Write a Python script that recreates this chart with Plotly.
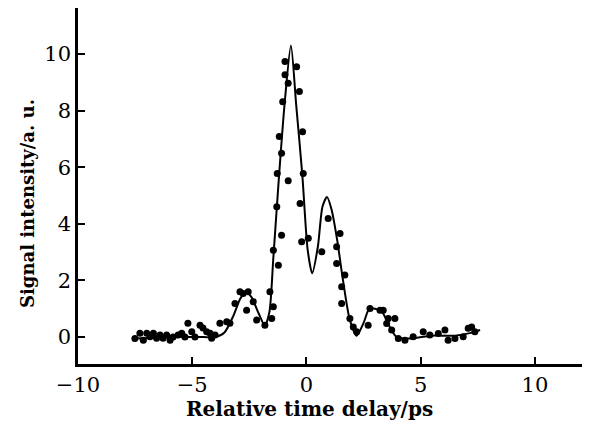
import plotly.graph_objects as go

# Measured data points (relative time delay in ps, signal intensity in a.u.)
data_x = [-7.51, -7.29, -7.14, -6.99, -6.85, -6.70, -6.56, -6.41, -6.28, -6.12,
          -5.97, -5.84, -5.62, -5.46, -5.32, -5.19, -5.02, -4.88, -4.66, -4.53,
          -4.37, -4.22, -4.15, -4.00, -3.79, -3.49, -3.35, -3.13, -2.91, -2.77,
          -2.62, -2.55, -2.33, -2.18, -1.82, -1.60, -1.52, -1.45, -1.45, -1.30,
          -1.28, -1.23, -1.19, -1.09, -1.09, -1.04, -0.94, -0.94, -0.80, -0.80,
          -0.43, -0.31, -0.28, -0.21, -0.17, -0.14, 0.08, 0.67, 0.95, 1.32,
          1.47, 1.32, 1.68, 1.54, 1.54, 1.90, 2.05, 2.20, 2.70, 2.78,
          3.22, 3.36, 3.51, 3.58, 3.73, 3.87, 4.02, 4.31, 4.67, 5.11,
          5.40, 5.77, 6.06, 6.20, 6.50, 6.86, 7.08, 7.23, 7.37]
data_y = [-0.05, 0.14, -0.11, 0.14, 0.01, 0.14, -0.04, 0.07, -0.04, 0.07,
          -0.11, 0.00, 0.07, 0.14, 0.00, 0.49, 0.19, 0.00, 0.42, 0.32,
          0.19, 0.14, -0.04, 0.07, 0.49, 0.54, 0.49, 1.19, 1.60, 1.54,
          0.95, 1.60, 1.25, 0.60, 0.42, 1.60, 0.66, 1.07, 3.07, 4.60,
          5.78, 2.54, 7.08, 6.49, 3.60, 8.31, 9.73, 9.26, 8.96, 5.52,
          9.55, 8.67, 4.72, 3.37, 7.25, 5.78, 3.49, 3.01, 4.19, 3.19,
          3.66, 2.60, 2.19, 1.78, 1.19, 0.66, 0.36, 0.19, 0.42, 1.01,
          0.95, 0.95, 0.48, 0.66, 0.25, 0.66, -0.05, -0.11, 0.01, 0.19,
          0.07, 0.13, 0.25, -0.11, -0.05, 0.01, 0.31, 0.36, 0.19]

# Fitted curve
fit_x = [-7.5, -6.5, -5.5, -4.5, -4.0, -3.6, -3.2, -2.9, -2.65, -2.4,
         -2.1, -1.82, -1.62, -1.45, -1.2, -0.95, -0.68, -0.45, -0.18, 0.05,
         0.25, 0.5, 0.7, 0.9, 1.1, 1.35, 1.6, 1.9, 2.2, 2.5,
         2.75, 3.0, 3.3, 3.65, 3.95, 4.5, 5.5, 6.5, 7.2, 7.6]
fit_y = [-0.05, -0.02, 0.0, 0.0, 0.0, 0.15, 0.75, 1.35, 1.6, 1.4,
         0.85, 0.4, 0.9, 2.8, 5.7, 8.3, 10.3, 8.2, 5.7, 3.1,
         2.25, 3.2, 4.6, 4.95, 4.5, 3.4, 2.0, 0.6, 0.05, 0.5,
         1.0, 1.0, 0.9, 0.35, 0.0, -0.05, 0.05, 0.05, 0.15, 0.25]

x_ticks = [-10, -5, 0, 5, 10]
y_ticks = [0, 2, 4, 6, 8, 10]

FONT = "DejaVu Serif"

fig = go.Figure()
fig.add_trace(go.Scatter(x=fit_x, y=fit_y, mode="lines",
                         line=dict(color="black", width=2, shape="spline", smoothing=0.7),
                         showlegend=False, hoverinfo="skip"))
fig.add_trace(go.Scatter(x=data_x, y=data_y, mode="markers",
                         marker=dict(color="black", size=7),
                         showlegend=False))

axis_common = dict(showgrid=False, zeroline=False, showline=True, linecolor="black",
                   linewidth=2.5, ticks="inside", ticklen=7, tickwidth=2, tickcolor="black",
                   tickfont=dict(family=FONT, size=21, color="black"), mirror=False,
                   automargin=False)

fig.update_xaxes(range=[-10, 12.06], tickvals=x_ticks, **axis_common)
fig.update_yaxes(range=[-0.95, 11.62], tickvals=y_ticks, **axis_common)

fig.update_layout(
    width=591, height=426,
    margin=dict(l=78, r=9, t=8, b=62, autoexpand=False),
    plot_bgcolor="white", paper_bgcolor="white",
    font=dict(family=FONT, color="black"),
    annotations=[
        dict(text="<b>Relative time delay/ps</b>", xref="paper", yref="paper",
             x=(309 - 78) / 504, y=-(409 - 364) / 356, xanchor="center", yanchor="middle",
             showarrow=False, font=dict(family=FONT, size=20, color="black")),
        dict(text="<b>Signal intensity/a. u.</b>", xref="paper", yref="paper",
             x=-(78 - 27) / 504, y=(364 - 204) / 356, xanchor="center", yanchor="middle",
             textangle=-90, showarrow=False, font=dict(family=FONT, size=18, color="black")),
    ],
)

fig.write_html("out.html", config={"displayModeBar": False},
               post_script="document.body.style.margin='0';")
